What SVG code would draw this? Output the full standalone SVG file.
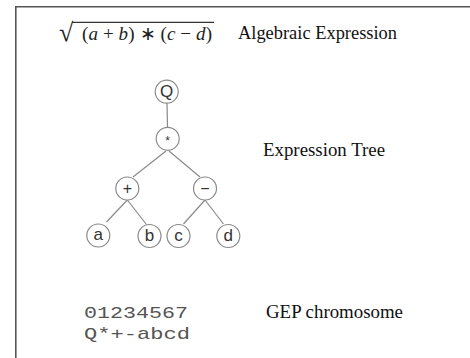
<svg xmlns="http://www.w3.org/2000/svg" width="470" height="358" viewBox="0 0 470 358">
<style>
.frame{fill:none;stroke:#555;stroke-width:1.6}
.edge{stroke:#8a8a8a;stroke-width:1.2;fill:none}
.node circle{fill:#fff;stroke:#8a8a8a;stroke-width:1.2}
.node text{font-family:"Liberation Sans",Arial,sans-serif;fill:#333;text-anchor:middle;dominant-baseline:central}
.lbl{font-family:"Liberation Serif","Times New Roman",serif;font-size:18px;fill:#111}
.math{font-family:"Liberation Serif","Times New Roman",serif;fill:#222}
.mono{font-family:"Liberation Mono","Courier New",monospace;font-size:17px;fill:#555}
</style>
<rect width="470" height="358" fill="#fff"/>
<path class="frame" d="M15.8 358 V6.8 H470"/>

<g id="formula">
<text class="math" x="59" y="41" style="font-size:26px">√</text>
<line x1="72" y1="22.3" x2="214" y2="22.3" stroke="#333" stroke-width="1.2"/>
<text class="math" x="82" y="39.5" style="font-size:19px" textLength="130" lengthAdjust="spacing">(<tspan font-style="italic">a</tspan> + <tspan font-style="italic">b</tspan>) ∗ (<tspan font-style="italic">c</tspan> − <tspan font-style="italic">d</tspan>)</text>
</g>
<text class="lbl" x="238" y="39" textLength="159" lengthAdjust="spacingAndGlyphs">Algebraic Expression</text>
<text class="lbl" x="263" y="156" textLength="122" lengthAdjust="spacingAndGlyphs">Expression Tree</text>
<text class="lbl" x="266" y="318" textLength="137" lengthAdjust="spacingAndGlyphs">GEP chromosome</text>

<g id="connectors">
<line class="edge" x1="167" y1="103" x2="167.5" y2="127"/>
<line class="edge" x1="166" y1="151" x2="133" y2="177"/>
<line class="edge" x1="169" y1="151" x2="200" y2="177"/>
<line class="edge" x1="127.3" y1="200" x2="106.5" y2="222"/>
<line class="edge" x1="127.3" y1="200" x2="146.5" y2="224.5"/>
<line class="edge" x1="205" y1="200" x2="183.5" y2="224"/>
<line class="edge" x1="205" y1="200" x2="223.5" y2="224"/>
</g>

<g id="node-Q" class="node"><circle cx="166.7" cy="91.7" r="11.5"/><text x="166.7" y="91.5" style="font-size:17px">Q</text></g>
<g id="node-mul" class="node"><circle cx="167.7" cy="138.8" r="11.5"/><text x="167.7" y="140.5" style="font-size:12px">*</text></g>
<g id="node-plus" class="node"><circle cx="127.3" cy="188.5" r="11.5"/><text x="127.3" y="188" style="font-size:16px">+</text></g>
<g id="node-minus" class="node"><circle cx="205" cy="188.5" r="11.5"/><text x="205" y="188" style="font-size:16px">−</text></g>
<g id="node-a" class="node"><circle cx="98.3" cy="235.5" r="11.5"/><text x="98.3" y="234.5" style="font-size:17px">a</text></g>
<g id="node-b" class="node"><circle cx="149.5" cy="236" r="11.5"/><text x="149.5" y="235" style="font-size:17px">b</text></g>
<g id="node-c" class="node"><circle cx="178.5" cy="236" r="11.5"/><text x="178.5" y="235" style="font-size:17px">c</text></g>
<g id="node-d" class="node"><circle cx="228.3" cy="236" r="11.5"/><text x="228.3" y="235" style="font-size:17px">d</text></g>

<g id="chromosome">
<text class="mono" x="84" y="318" textLength="104" lengthAdjust="spacingAndGlyphs">01234567</text>
<text class="mono" x="84" y="339" textLength="106" lengthAdjust="spacingAndGlyphs">Q*+-abcd</text>
</g>
</svg>
